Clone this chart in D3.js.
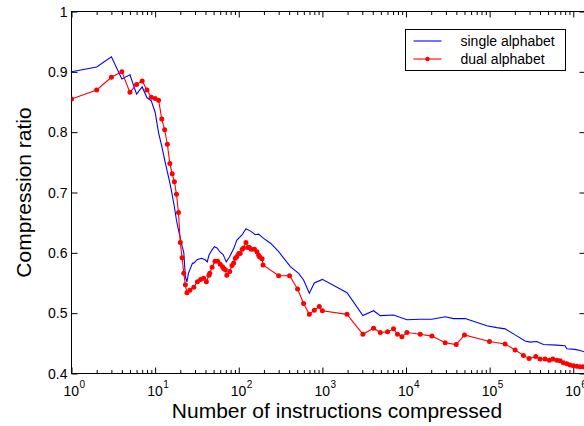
<!DOCTYPE html>
<html>
<head>
<meta charset="utf-8">
<script src="https://cdn.jsdelivr.net/npm/d3@7"></script>
<style>
  body { margin: 0; background: #fff; }
  text { font-family: "Liberation Sans", Arial, Helvetica, sans-serif; fill: #000; }
  .tick line { stroke: #000; }
</style>
</head>
<body>
<div class="chart"></div>
<script>
// values
var singleN = [1,2,3,4,5,6,7,8,9,10,11,12,13,14,15,16,17,18,19,20,21,22,23,24,25,
  28,29,32,36,40,42,44,48,51,55,60,65,71,78,87,95,
  110,122,138,158,173,198,240,300,414,520,596,698,800,1000,
  1970,3050,4090,4920,7090,10250,14780,20390,29400,36940,50960,
  92600,121900,153200,201700,265600,304800,366400,439300,
  635300,798000,836300,1050800,1206000,1346000];
var singleRatio = [0.900,0.908,0.925,0.888,0.895,0.863,0.875,0.857,0.852,0.833,
  0.799,0.777,0.754,0.734,0.716,0.696,0.676,0.654,0.638,0.625,
  0.611,0.601,0.560,0.552,0.566,
  0.583,0.583,0.589,0.591,0.588,0.585,0.596,0.605,0.610,0.608,0.601,0.597,0.585,0.594,0.607,0.621,
  0.630,0.640,0.636,0.630,0.631,0.624,0.616,0.602,0.577,0.566,0.555,0.533,0.550,0.556,
  0.534,0.496,0.504,0.496,0.497,0.489,0.490,0.490,0.494,0.491,0.491,
  0.479,0.476,0.474,0.464,0.454,0.452,0.453,0.448,
  0.447,0.446,0.441,0.440,0.438,0.436];

var dualN = [1,2,3,4,5,6,7,8,9,10,11,12,13,14,15,16,17,18,19,20,21,22,23,24,
  26,29,32,35,38,41,44,45,48,52,56,60,64,66,69,72,
  78,83,87,91,95,100,104,110,114,122,129,134,141,154,165,173,178,190,195,
  300,405,505,596,698,800,918,1000,
  1970,3050,4090,4920,6010,7090,7910,8930,10250,14780,20390,29400,39800,50000,
  99500,153200,201700,253400,296500,356500,401200,460300,518200,569100,
  635300,695700,761700,836300,915800,1002800,1101000,1206000,1320000];
var dualRatio = [0.855,0.870,0.891,0.900,0.866,0.879,0.885,0.870,0.858,0.856,
  0.853,0.822,0.804,0.780,0.748,0.731,0.718,0.697,0.667,0.617,0.592,0.566,0.547,0.534,
  0.538,0.543,0.552,0.556,0.558,0.552,0.563,0.566,0.576,0.586,0.586,0.581,0.577,0.574,0.572,0.563,
  0.569,0.579,0.583,0.591,0.594,0.599,0.599,0.606,0.608,0.617,0.609,0.609,0.606,0.606,0.602,0.596,0.593,0.590,0.580,
  0.562,0.562,0.540,0.516,0.498,0.505,0.511,0.504,
  0.498,0.465,0.475,0.468,0.469,0.474,0.465,0.461,0.468,0.465,0.462,0.451,0.448,0.464,
  0.453,0.449,0.439,0.430,0.425,0.428,0.424,0.424,0.422,0.424,
  0.422,0.421,0.418,0.416,0.414,0.413,0.412,0.411,0.411];

var seriesNames = ["single alphabet", "dual alphabet"];
var yTicks = [0.4, 0.5, 0.6, 0.7, 0.8, 0.9, 1];
var yTickLabels = ["0.4", "0.5", "0.6", "0.7", "0.8", "0.9", "1"];
var xExponents = [0, 1, 2, 3, 4, 5, 6];

var svgWidth = 584;
var svgHeight = 426;
// the plot box runs slightly past the right edge of the picture
var box = { left: 71.5, right: 585.5, top: 11.5, bottom: 373.5 };

var svg = d3.select(".chart")
  .append("svg")
  .attr("width", svgWidth)
  .attr("height", svgHeight);

var x = d3.scaleLog().domain([1, 1.4e6]).range([box.left, box.right]);
var y = d3.scaleLinear().domain([0.4, 1]).range([box.bottom, box.top]);

var majors = xExponents.map(e => Math.pow(10, e));
var minors = [];
xExponents.forEach(function (e) {
  for (var k = 2; k <= 9; k++) {
    var v = k * Math.pow(10, e);
    if (v < 1.4e6) minors.push(v);
  }
});

// ticks all point inward
function drawAxis(axis, transform) {
  var g = svg.append("g").attr("transform", transform).call(axis);
  g.select(".domain").remove();
  g.selectAll("text").remove();
  g.selectAll("line").attr("stroke", "#000").attr("stroke-width", 1);
  return g;
}
drawAxis(d3.axisBottom(x).tickValues(majors).tickSize(-6).tickSizeOuter(0), `translate(0, ${box.bottom})`);
drawAxis(d3.axisBottom(x).tickValues(minors).tickSize(-3.5).tickSizeOuter(0), `translate(0, ${box.bottom})`);
drawAxis(d3.axisTop(x).tickValues(majors).tickSize(-6).tickSizeOuter(0), `translate(0, ${box.top})`);
drawAxis(d3.axisTop(x).tickValues(minors).tickSize(-3.5).tickSizeOuter(0), `translate(0, ${box.top})`);
drawAxis(d3.axisLeft(y).tickValues(yTicks).tickSize(-6).tickSizeOuter(0), `translate(${box.left}, 0)`);
drawAxis(d3.axisRight(y).tickValues(yTicks).tickSize(-6).tickSizeOuter(0), `translate(${box.right}, 0)`);

svg.append("rect")
  .attr("x", box.left).attr("y", box.top)
  .attr("width", box.right - box.left).attr("height", box.bottom - box.top)
  .attr("fill", "none").attr("stroke", "#000").attr("stroke-width", 1);

// tick labels: "10" centred on the tick, exponent raised after it
var xLab = svg.append("g").selectAll("text")
  .data(xExponents)
  .enter()
  .append("text")
  .attr("x", d => x(Math.pow(10, d)) - 8)
  .attr("y", 396)
  .style("font-size", "14px");
xLab.append("tspan").text("10");
xLab.append("tspan")
  .attr("dx", 0.5)
  .attr("dy", -8)
  .style("font-size", "10px")
  .text(d => d);

svg.append("g").selectAll("text")
  .data(yTicks)
  .enter()
  .append("text")
  .attr("x", box.left - 4)
  .attr("y", d => y(d))
  .attr("dy", "0.36em")
  .attr("text-anchor", "end")
  .style("font-size", "14px")
  .text((d, i) => yTickLabels[i]);

// axis titles
svg.append("text")
  .attr("x", 337)
  .attr("y", 418)
  .attr("text-anchor", "middle")
  .style("font-size", "21px")
  .text("Number of instructions compressed");

svg.append("text")
  .attr("transform", `translate(31, ${(box.top + box.bottom) / 2}) rotate(-90)`)
  .attr("text-anchor", "middle")
  .style("font-size", "21px")
  .text("Compression ratio");

// lines
svg.append("clipPath").attr("id", "plotclip")
  .append("rect")
  .attr("x", box.left).attr("y", box.top)
  .attr("width", box.right - box.left).attr("height", box.bottom - box.top);

var singleData = singleN.map((n, i) => ({ n: n, r: singleRatio[i] }));
var dualData = dualN.map((n, i) => ({ n: n, r: dualRatio[i] }));

var line = d3.line().x(d => x(d.n)).y(d => y(d.r));
var plot = svg.append("g").attr("clip-path", "url(#plotclip)");

plot.append("path")
  .datum(singleData)
  .attr("d", line)
  .attr("fill", "none")
  .attr("stroke", "#0000ff")
  .attr("stroke-width", 1.1);

plot.append("path")
  .datum(dualData)
  .attr("d", line)
  .attr("fill", "none")
  .attr("stroke", "#ff0000")
  .attr("stroke-width", 1.1);

plot.selectAll("circle")
  .data(dualData)
  .enter()
  .append("circle")
  .attr("cx", d => x(d.n))
  .attr("cy", d => y(d.r))
  .attr("r", 2.5)
  .attr("fill", "#ff0000");

// legend
var legend = svg.append("g").attr("transform", "translate(405.5, 29.5)");
legend.append("rect")
  .attr("width", 160).attr("height", 41)
  .attr("fill", "#fff").attr("stroke", "#000").attr("stroke-width", 1);
var colors = ["#0000ff", "#ff0000"];
seriesNames.forEach(function (name, i) {
  var ly = 11.5 + i * 18;
  legend.append("line")
    .attr("x1", 8).attr("x2", 36).attr("y1", ly).attr("y2", ly)
    .attr("stroke", colors[i]).attr("stroke-width", 1.1);
  if (i === 1) {
    legend.append("circle").attr("cx", 22).attr("cy", ly).attr("r", 2.2).attr("fill", colors[i]);
  }
  legend.append("text")
    .attr("x", 55)
    .attr("y", ly + 5)
    .style("font-size", "14px")
    .text(name);
});
</script>
</body>
</html>
